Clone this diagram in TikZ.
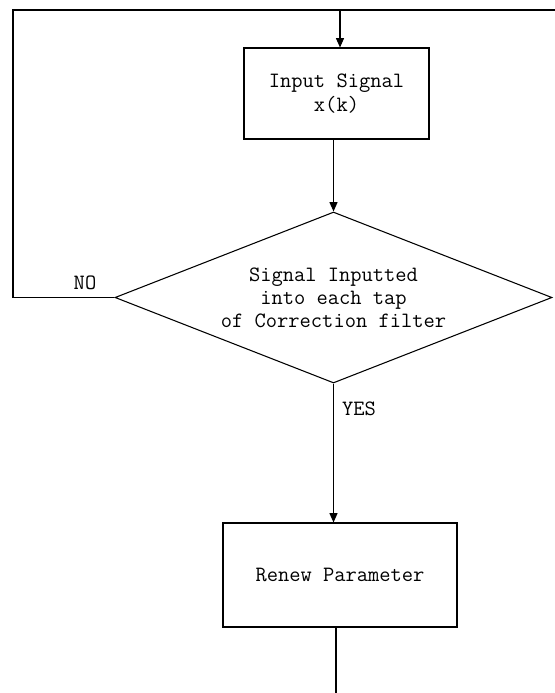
\documentclass[tikz,border=0pt]{standalone}
\usepackage{fontspec}
\usetikzlibrary{shapes.geometric,arrows.meta}
\tikzset{
  flowline/.style={line width=0.8pt, draw=black},
  arr/.style={flowline, -{Triangle[length=7pt,width=6pt]}},
  procbox/.style={draw, flowline, rectangle, inner sep=0pt, align=center,
    font=\fontsize{16.4}{18.5}\selectfont\ttfamily},
  decbox/.style={draw, flowline, diamond, aspect=2.56, inner sep=0pt, align=center,
    minimum width=327.75pt, minimum height=128.25pt,
    font=\fontsize{16.4}{17.25}\selectfont\ttfamily},
  lbl/.style={inner sep=0pt, font=\fontsize{16.4}{17}\selectfont\ttfamily}
}
\begin{document}
\begin{tikzpicture}[x=0.75pt,y=-0.75pt]
  \useasboundingbox (0,0) rectangle (555,693);
  \fill[white] (0,0) rectangle (555,693);

  % process and decision blocks
  \node[procbox, minimum width=138.75pt, minimum height=68.25pt] (in) at (336.5,93.5)
    {Input Signal\\x(k)};
  \node[decbox] (dec) at (333.5,297.5)
    {Signal Inputted\\into each tap\\of Correction filter};
  \node[procbox, minimum width=175.5pt, minimum height=78pt] (rp) at (340,575)
    {Renew Parameter};

  % loop-back path
  \coordinate (lc) at (13,297.5);
  \coordinate (tl) at (13,10);
  \coordinate (tr) at (555,10);
  \coordinate (ta) at (340,10);
  \coordinate (bend) at (336,693);

  \draw[flowline] (dec.west) -- (lc) -- (tl) -- (tr);
  \draw[arr] (ta) -- (ta |- in.north);
  \draw[arr] (in.south -| dec.north) -- (dec.north);
  \draw[arr] (dec.south) -- (dec.south |- rp.north);
  \draw[flowline] (bend |- rp.south) -- (bend);

  % branch labels
  \node[lbl] (no) at (85,283) {NO};
  \node[lbl] (yes) at (359,409) {YES};
\end{tikzpicture}
\end{document}
